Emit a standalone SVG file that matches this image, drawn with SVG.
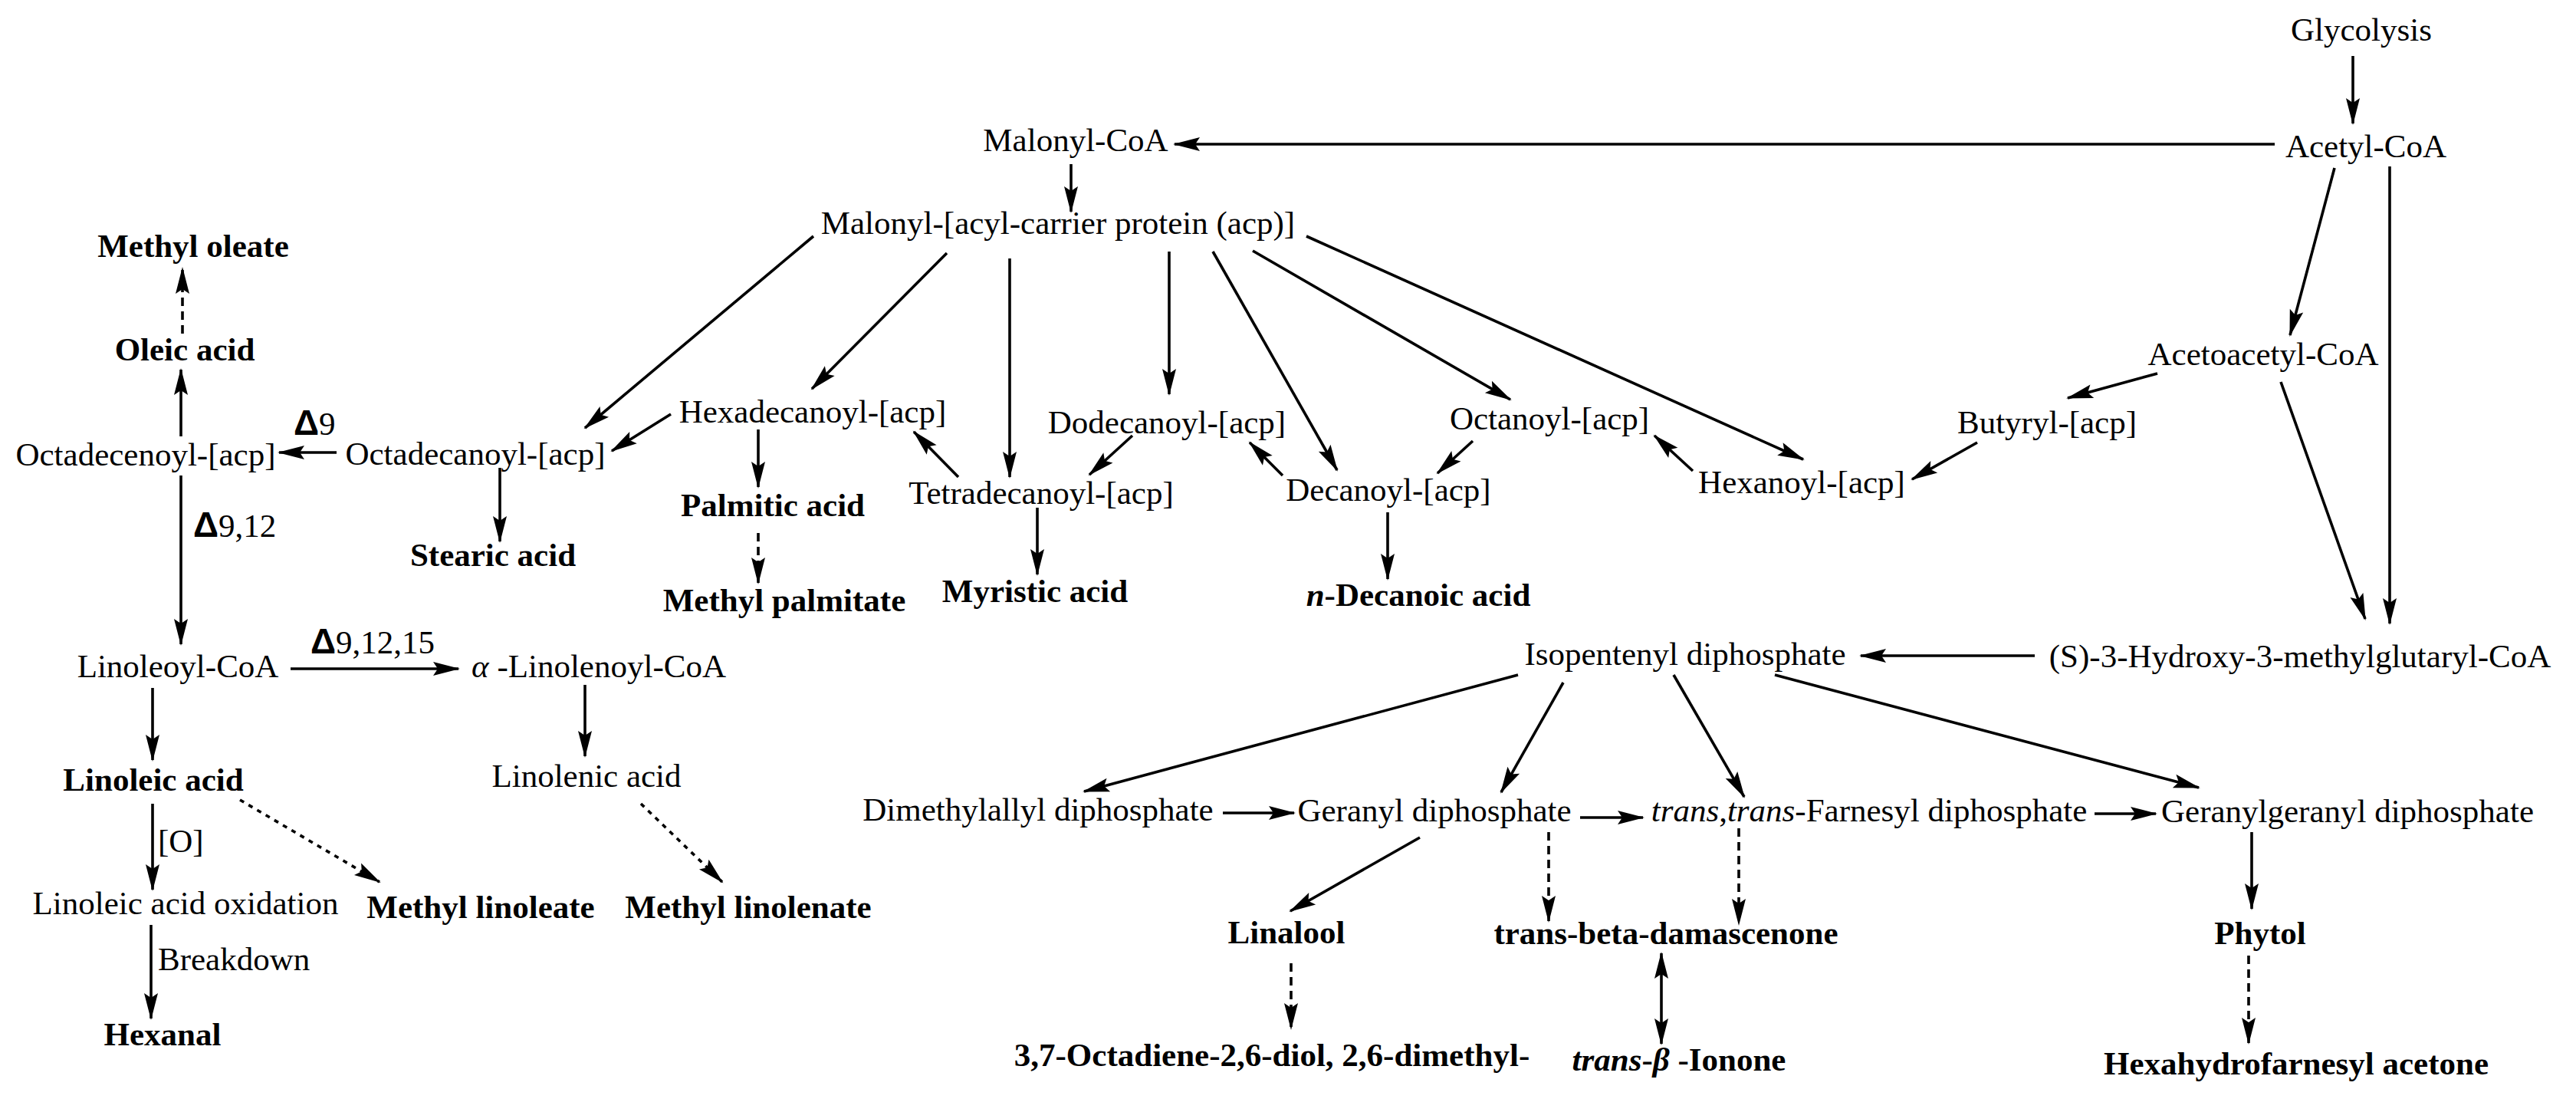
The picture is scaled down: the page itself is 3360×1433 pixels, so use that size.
<svg xmlns="http://www.w3.org/2000/svg" width="3360" height="1433" viewBox="0 0 3360 1433">
<style>
text{font-family:"Liberation Serif","Times New Roman",serif;font-size:43px;fill:#000;text-anchor:middle}
.b{font-weight:bold}
.s{text-anchor:start}
.i{font-style:italic}
.d{font-family:"Liberation Sans",Arial,sans-serif;font-size:46px;font-weight:bold}
.c line{stroke:#000;stroke-width:3.6;fill:none;marker-end:url(#ah)}
.c .dash{stroke-dasharray:11 7}
.c .dot{stroke-dasharray:6 7}
.c .both{marker-start:url(#ah)}
</style>
<defs>
<marker id="ah" markerUnits="userSpaceOnUse" markerWidth="40" markerHeight="24" viewBox="-36 -12 40 24" refX="0" refY="0" orient="auto-start-reverse">
<path d="M2,0 L-33,-9 L-27,0 L-33,9 Z" fill="#000"/>
</marker>
</defs>
<rect width="3360" height="1433" fill="#fff"/>
<g id="connectors" class="c">
<line x1="3069" y1="73" x2="3069" y2="161"/>
<line x1="2967" y1="188" x2="1532" y2="188"/>
<line x1="1397" y1="214" x2="1397" y2="276"/>
<line x1="3045" y1="219" x2="2987" y2="437"/>
<line x1="3117" y1="217" x2="3117" y2="813"/>
<line x1="2975" y1="498" x2="3085" y2="807"/>
<line x1="2814" y1="487" x2="2697" y2="519"/>
<line x1="2579" y1="577" x2="2494" y2="625"/>
<line x1="2654" y1="855" x2="2427" y2="855"/>
<line x1="1061" y1="308" x2="763" y2="558"/>
<line x1="1235" y1="330" x2="1059" y2="507"/>
<line x1="1317" y1="337" x2="1317" y2="622"/>
<line x1="1525" y1="328" x2="1525" y2="514"/>
<line x1="1582" y1="328" x2="1744" y2="613"/>
<line x1="1634" y1="327" x2="1970" y2="521"/>
<line x1="1704" y1="308" x2="2352" y2="599"/>
<line x1="875" y1="540" x2="798" y2="588"/>
<line x1="439" y1="590" x2="364" y2="590"/>
<line x1="236" y1="569" x2="236" y2="482"/>
<line class="dash" x1="238" y1="435" x2="238" y2="350"/>
<line x1="652" y1="610" x2="652" y2="706"/>
<line x1="236" y1="620" x2="236" y2="840"/>
<line x1="379" y1="872" x2="598" y2="872"/>
<line x1="199" y1="897" x2="199" y2="991"/>
<line x1="763" y1="893" x2="763" y2="986"/>
<line x1="199" y1="1048" x2="199" y2="1160"/>
<line class="dot" x1="313" y1="1043" x2="495" y2="1150"/>
<line x1="197" y1="1206" x2="197" y2="1328"/>
<line class="dot" x1="836" y1="1048" x2="942" y2="1150"/>
<line x1="989" y1="560" x2="989" y2="635"/>
<line class="dash" x1="989" y1="695" x2="989" y2="760"/>
<line x1="1250" y1="622" x2="1192" y2="563"/>
<line x1="1477" y1="568" x2="1421" y2="619"/>
<line x1="1673" y1="620" x2="1630" y2="577"/>
<line x1="1353" y1="662" x2="1353" y2="749"/>
<line x1="1921" y1="575" x2="1875" y2="617"/>
<line x1="2208" y1="614" x2="2158" y2="568"/>
<line x1="1810" y1="668" x2="1810" y2="755"/>
<line x1="1980" y1="880" x2="1414" y2="1032"/>
<line x1="2039" y1="890" x2="1958" y2="1033"/>
<line x1="2183" y1="880" x2="2275" y2="1039"/>
<line x1="2315" y1="880" x2="2868" y2="1027"/>
<line x1="1595" y1="1060" x2="1688" y2="1060"/>
<line x1="2061" y1="1066" x2="2143" y2="1066"/>
<line x1="2732" y1="1061" x2="2812" y2="1061"/>
<line x1="1852" y1="1092" x2="1683" y2="1188"/>
<line class="dash" x1="2020" y1="1085" x2="2020" y2="1201"/>
<line class="dash" x1="2268" y1="1080" x2="2268" y2="1205"/>
<line class="both" x1="2167" y1="1243" x2="2167" y2="1361"/>
<line class="dash" x1="1684" y1="1256" x2="1684" y2="1341"/>
<line x1="2937" y1="1085" x2="2937" y2="1185"/>
<line class="dash" x1="2933" y1="1246" x2="2933" y2="1360"/>
</g>
<g id="glycolysis"><text x="3080" y="53">Glycolysis</text></g>
<g id="acetyl-coa"><text x="3086" y="205">Acetyl-CoA</text></g>
<g id="malonyl-coa"><text x="1403" y="197">Malonyl-CoA</text></g>
<g id="malonyl-acp"><text x="1380" y="305">Malonyl-[acyl-carrier protein (acp)]</text></g>
<g id="acetoacetyl-coa"><text x="2952" y="476">Acetoacetyl-CoA</text></g>
<g id="methyl-oleate"><text class="b" x="252" y="335">Methyl oleate</text></g>
<g id="oleic-acid"><text class="b" x="241" y="470">Oleic acid</text></g>
<g id="octadecenoyl"><text x="190" y="607">Octadecenoyl-[acp]</text></g>
<g id="delta9"><text class="s" x="383" y="567"><tspan class="d">Δ</tspan>9</text></g>
<g id="octadecanoyl"><text x="620" y="606">Octadecanoyl-[acp]</text></g>
<g id="hexadecanoyl"><text x="1060" y="551">Hexadecanoyl-[acp]</text></g>
<g id="tetradecanoyl"><text x="1358" y="657">Tetradecanoyl-[acp]</text></g>
<g id="dodecanoyl"><text x="1522" y="565">Dodecanoyl-[acp]</text></g>
<g id="decanoyl"><text x="1811" y="653">Decanoyl-[acp]</text></g>
<g id="octanoyl"><text x="2021" y="560">Octanoyl-[acp]</text></g>
<g id="hexanoyl"><text x="2350" y="643">Hexanoyl-[acp]</text></g>
<g id="butyryl"><text x="2670" y="565">Butyryl-[acp]</text></g>
<g id="stearic-acid"><text class="b" x="643" y="738">Stearic acid</text></g>
<g id="palmitic-acid"><text class="b" x="1008" y="673">Palmitic acid</text></g>
<g id="methyl-palmitate"><text class="b" x="1023" y="797">Methyl palmitate</text></g>
<g id="myristic-acid"><text class="b" x="1350" y="785">Myristic acid</text></g>
<g id="n-decanoic-acid"><text class="b" x="1850" y="790"><tspan class="i">n</tspan>-Decanoic acid</text></g>
<g id="delta912"><text class="s" x="252" y="700"><tspan class="d">Δ</tspan>9,12</text></g>
<g id="delta91215"><text class="s" x="405" y="852"><tspan class="d">Δ</tspan>9,12,15</text></g>
<g id="linoleoyl-coa"><text x="232" y="883">Linoleoyl-CoA</text></g>
<g id="alpha-linolenoyl-coa"><text x="781" y="883"><tspan class="i">α</tspan> -Linolenoyl-CoA</text></g>
<g id="isopentenyl"><text x="2198" y="867">Isopentenyl diphosphate</text></g>
<g id="hmg-coa"><text x="3000" y="870">(S)-3-Hydroxy-3-methylglutaryl-CoA</text></g>
<g id="linoleic-acid"><text class="b" x="200" y="1031">Linoleic acid</text></g>
<g id="linolenic-acid"><text x="765" y="1026">Linolenic acid</text></g>
<g id="label-o"><text class="s" x="206" y="1111">[O]</text></g>
<g id="linoleic-oxidation"><text x="242" y="1192">Linoleic acid oxidation</text></g>
<g id="methyl-linoleate"><text class="b" x="627" y="1197">Methyl linoleate</text></g>
<g id="methyl-linolenate"><text class="b" x="976" y="1197">Methyl linolenate</text></g>
<g id="label-breakdown"><text class="s" x="206" y="1265">Breakdown</text></g>
<g id="hexanal"><text class="b" x="212" y="1363">Hexanal</text></g>
<g id="dimethylallyl"><text x="1354" y="1070">Dimethylallyl diphosphate</text></g>
<g id="geranyl"><text x="1871" y="1071">Geranyl diphosphate</text></g>
<g id="farnesyl"><text x="2438" y="1071"><tspan class="i">trans</tspan>,<tspan class="i">trans</tspan>-Farnesyl diphosphate</text></g>
<g id="geranylgeranyl"><text x="3062" y="1072">Geranylgeranyl diphosphate</text></g>
<g id="linalool"><text class="b" x="1678" y="1230">Linalool</text></g>
<g id="damascenone"><text class="b" x="2173" y="1231">trans-beta-damascenone</text></g>
<g id="phytol"><text class="b" x="2948" y="1231">Phytol</text></g>
<g id="octadiene-diol"><text class="b" x="1659" y="1390">3,7-Octadiene-2,6-diol, 2,6-dimethyl-</text></g>
<g id="ionone"><text class="b" x="2190" y="1396"><tspan class="i">trans</tspan>-<tspan class="i">β</tspan> -Ionone</text></g>
<g id="hexahydrofarnesyl-acetone"><text class="b" x="2995" y="1401">Hexahydrofarnesyl acetone</text></g>
</svg>
